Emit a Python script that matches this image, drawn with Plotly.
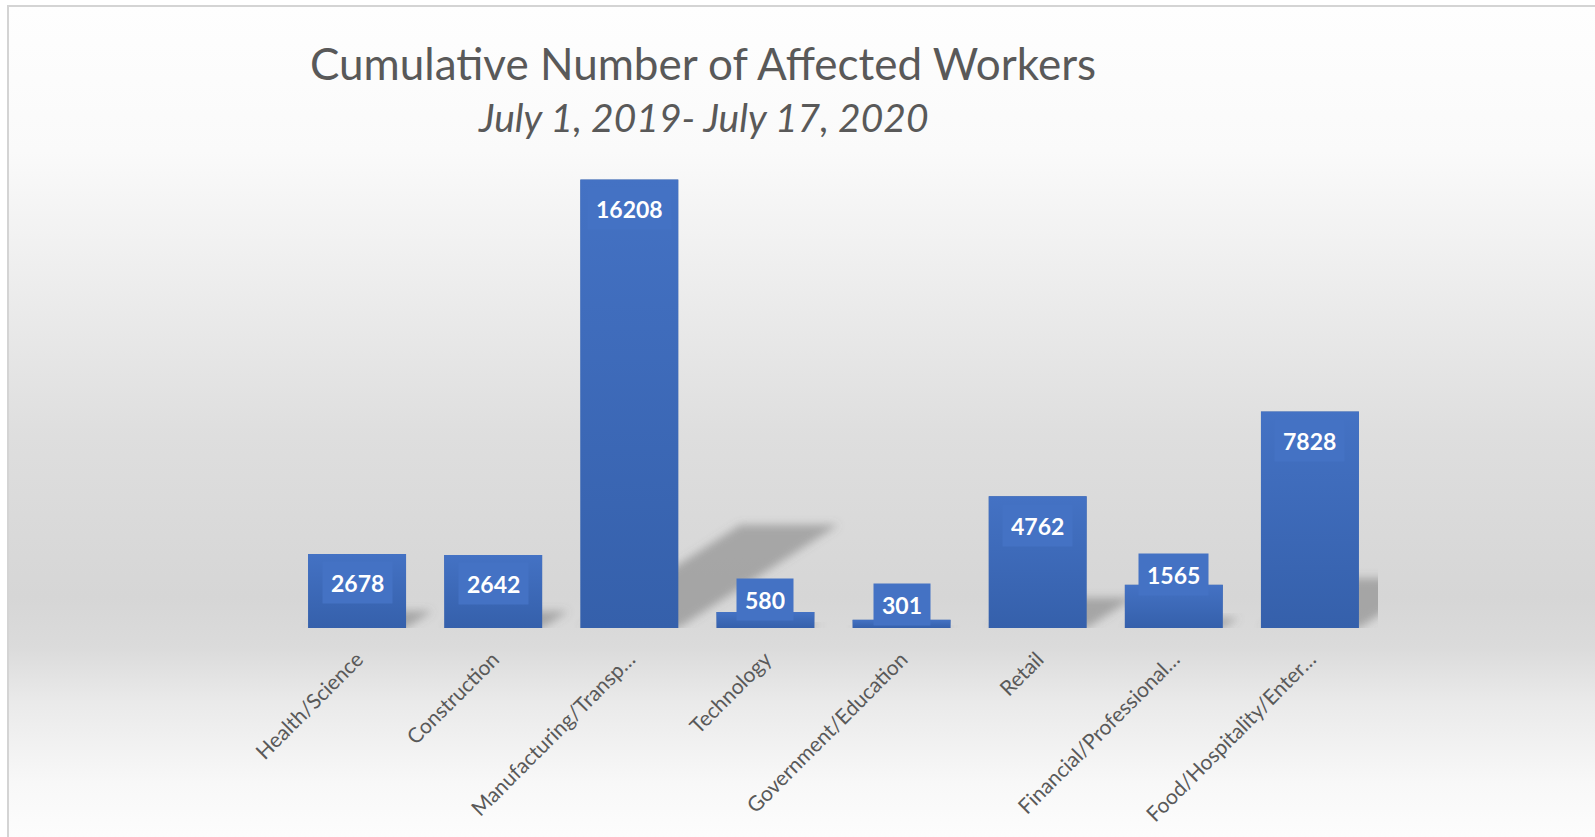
import base64
import plotly.graph_objects as go

# ---------------- data ----------------
categories = ["Health/Science", "Construction", "Manufacturing/Transp…", "Technology",
              "Government/Education", "Retail", "Financial/Professional…",
              "Food/Hospitality/Enter…"]
workers = [2678, 2642, 16208, 580, 301, 4762, 1565, 7828]

title_text = "Cumulative Number of Affected Workers"
subtitle_text = "July 1, 2019- July 17, 2020"

# ---------------- layout / style ----------------
W, H = 1595, 837
# plot area in page pixels: x 289..1378, y 130..628
ML, MR, MT, MB = 289, W - 1378, 130, H - 628
PW = W - ML - MR
PH = H - MT - MB
YMAX = 18000
BARW = 0.72
FONT = "Lato"
GRAY = "#595959"
BAR_DARK = "#3560ab"
BAR_LIGHT = "#4472c4"
# vertical offset (px) of each data label centre relative to the bar end
label_dy = [-29, -29, -29, 12, 15, -29, 10, -29]

XPX = PW / len(categories)      # px per category unit
YPX = PH / YMAX                 # px per value unit


def px_x(px):
    return (px - ML) / PW


def px_y(py):
    return (H - MB - py) / PH


def svg_uri(svg):
    return "data:image/svg+xml;base64," + base64.b64encode(svg.encode()).decode()


fig = go.Figure()
fig.add_trace(go.Bar(
    x=list(range(len(categories))), y=workers, width=BARW,
    marker=dict(color=BAR_DARK, line=dict(width=0)),
    hoverinfo="skip",
))

images = []

# background gradient (whole chart area)
bg_stops = [(6, 254), (150, 250), (300, 235), (430, 222), (590, 214), (640, 219),
            (694, 234), (774, 248), (837, 253)]
stops = "".join(
    f'<stop offset="{(p - 6) / 831:.4f}" stop-color="rgb({g},{g},{g})"/>' for p, g in bg_stops)
bg_svg = (f'<svg xmlns="http://www.w3.org/2000/svg" width="100" height="831" '
          f'viewBox="0 0 100 831" preserveAspectRatio="none">'
          f'<defs><linearGradient id="g" x1="0" y1="0" x2="0" y2="1">{stops}</linearGradient></defs>'
          f'<rect x="0" y="0" width="100" height="831" fill="url(#g)"/></svg>')
images.append(dict(source=svg_uri(bg_svg), xref="paper", yref="paper",
                   x=px_x(8), y=px_y(6), sizex=(W + 10 - 8) / PW, sizey=(831 + 10) / PH,
                   sizing="stretch", layer="below", xanchor="left", yanchor="top"))

# perspective shadows behind the bars
SH_Y = 0.23
SH_X = 0.357
M = 10
bw_px = BARW * XPX
for i, v in enumerate(workers):
    h_px = v * YPX
    sh_px = h_px * SH_Y
    shift = h_px * SH_X
    wimg = bw_px + shift + 2 * M
    himg = sh_px + 2 * M
    pts = (f"{M},{M + sh_px:.1f} {M + bw_px:.1f},{M + sh_px:.1f} "
           f"{M + bw_px + shift:.1f},{M} {M + shift:.1f},{M}")
    svg = (f'<svg xmlns="http://www.w3.org/2000/svg" width="{wimg:.1f}" height="{himg:.1f}" '
           f'viewBox="0 0 {wimg:.1f} {himg:.1f}" preserveAspectRatio="none">'
           f'<defs><filter id="b" x="-50%" y="-50%" width="200%" height="200%">'
           f'<feGaussianBlur stdDeviation="4"/></filter></defs>'
           f'<polygon points="{pts}" fill="rgb(105,105,105)" fill-opacity="0.45" filter="url(#b)"/></svg>')
    images.append(dict(source=svg_uri(svg), xref="x", yref="y",
                       x=i - BARW / 2 - M / XPX, y=(sh_px + M) / YPX,
                       sizex=wimg / XPX, sizey=himg / YPX,
                       sizing="stretch", layer="below", xanchor="left", yanchor="top"))

# per-bar vertical gradient overlay (light top -> dark bottom)
grad_svg = (f'<svg xmlns="http://www.w3.org/2000/svg" width="10" height="100" '
            f'viewBox="0 0 10 100" preserveAspectRatio="none">'
            f'<defs><linearGradient id="g" x1="0" y1="0" x2="0" y2="1">'
            f'<stop offset="0" stop-color="{BAR_LIGHT}" stop-opacity="1"/>'
            f'<stop offset="1" stop-color="{BAR_LIGHT}" stop-opacity="0"/>'
            f'</linearGradient></defs><rect x="0" y="0" width="10" height="100" fill="url(#g)"/></svg>')
grad_uri = svg_uri(grad_svg)
for i, v in enumerate(workers):
    images.append(dict(source=grad_uri, xref="x", yref="y",
                       x=i - BARW / 2, y=v, sizex=BARW, sizey=v,
                       sizing="stretch", layer="above", xanchor="left", yanchor="top"))

annotations = []
for i, v in enumerate(workers):
    annotations.append(dict(
        x=i, y=v, xref="x", yref="y", text=f"<b>{v}</b>", showarrow=False,
        yanchor="middle", yshift=label_dy[i],
        font=dict(family=FONT, size=23, color="white"),
        bgcolor=BAR_LIGHT, borderpad=8, height=25,
    ))

annotations.append(dict(
    x=px_x(703), y=px_y(63), xref="paper", yref="paper", text=title_text,
    showarrow=False, xanchor="center", yanchor="middle",
    font=dict(family=FONT, size=44, color=GRAY)))
annotations.append(dict(
    x=px_x(703), y=px_y(117), xref="paper", yref="paper", text=f"<i>{subtitle_text}</i>",
    showarrow=False, xanchor="center", yanchor="middle",
    font=dict(family=FONT, size=39, color=GRAY)))

shapes = [dict(type="rect", xref="paper", yref="paper",
               x0=px_x(8), y0=px_y(6), x1=px_x(W + 20), y1=px_y(H + 20),
               line=dict(color="#d4d4d4", width=2), fillcolor="rgba(0,0,0,0)", layer="above")]

fig.update_layout(
    width=W, height=H,
    margin=dict(l=ML, r=MR, t=MT, b=MB, pad=0),
    paper_bgcolor="white", plot_bgcolor="rgba(0,0,0,0)",
    showlegend=False,
    images=images, annotations=annotations, shapes=shapes,
    xaxis=dict(range=[-0.5, len(categories) - 0.5], tickmode="array",
               tickvals=list(range(len(categories))), ticktext=categories,
               tickangle=-45, showgrid=False, zeroline=False, showline=False,
               ticks="", ticklabelstandoff=14,
               tickfont=dict(family=FONT, size=21, color=GRAY), fixedrange=True),
    yaxis=dict(range=[0, YMAX], visible=False, showgrid=False, zeroline=False,
               fixedrange=True),
    bargap=0.28,
)

fig.write_html(
    "out.html",
    config={"displayModeBar": False},
    post_script="document.body.style.margin='0';document.body.style.overflow='hidden';",
)
